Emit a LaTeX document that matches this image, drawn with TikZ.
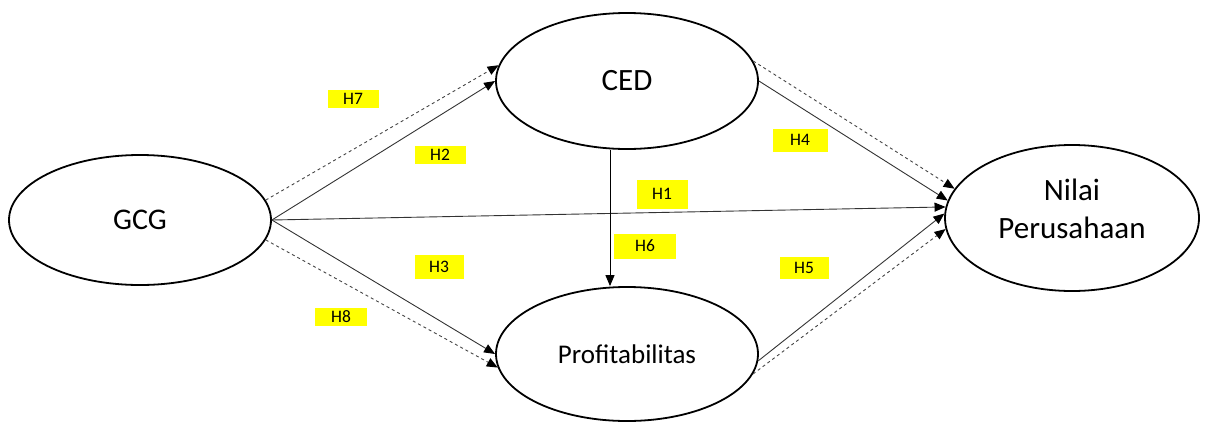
\documentclass[tikz,border=0pt]{standalone}
\usepackage{fontspec}
\setmainfont{Carlito}
\usetikzlibrary{arrows.meta,shapes.geometric,calc}
\definecolor{hlyellow}{HTML}{FFFF00}
\definecolor{lineg}{HTML}{333333}
\definecolor{dashg}{HTML}{444444}
\tikzset{
  construct/.style={ellipse, draw=black, line width=1.8pt, inner sep=0pt, align=center},
  hyp/.style={fill=hlyellow, inner sep=0pt, font=\fontsize{17.5}{20}\selectfont},
  tipstyle/.style={-{Triangle[length=11pt,width=9pt,color=black]}},
  solidarrow/.style={draw=lineg, line width=0.9pt, tipstyle},
  dasharrow/.style={draw=dashg, line width=0.9pt, dash pattern=on 3pt off 3pt, tipstyle},
}
\begin{document}
\begin{tikzpicture}[x=1pt,y=-1pt]
\useasboundingbox (0,0) rectangle (1208,421);
% constructs
\node[construct, minimum width=262pt, minimum height=130pt, font=\fontsize{30}{36}\selectfont] (gcg) at (140,220) {GCG};
\node[construct, minimum width=262pt, minimum height=136pt, font=\fontsize{31}{37}\selectfont] (ced) at (627,81) {CED};
\node[construct, minimum width=262pt, minimum height=134pt, font=\fontsize{27}{33}\selectfont] (prof) at (627,354) {Profitabilitas};
\node[construct, minimum width=254pt, minimum height=146pt] (nilai) at (1072,218) {};
\node[align=center, inner sep=0pt, font=\fontsize{31}{37.8}\selectfont] (nilaitext) at (1072,209) {Nilai\\Perusahaan};
% connectors
\draw[dasharrow] (gcg.9) -- (ced.173);
\draw[solidarrow] (gcg.east) -- (ced.west);
\draw[solidarrow] (gcg.east) -- (nilai.175.5);
\draw[solidarrow] (gcg.east) -- (prof.west);
\draw[dasharrow] (gcg.-9) -- (prof.186);
\draw[dasharrow] (ced.9) -- (nilai.166);
\draw[solidarrow] (ced.east) -- (nilai.172);
\draw[solidarrow] (prof.-3) -- (nilai.178.5);
\draw[dasharrow] (prof.-9) -- (nilai.185.5);
\draw[draw=black, line width=1pt, tipstyle] ($(ced.south)+(-17,0)$) -- ($(prof.north)+(-17,0)$);
% hypothesis labels
\node[hyp, minimum width=51pt, minimum height=18pt] (h7) at (353,99) {H7};
\node[hyp, minimum width=51pt, minimum height=18pt] (h2) at (440,155) {H2};
\node[hyp, minimum width=55pt, minimum height=23pt] (h4) at (800,140) {H4};
\node[hyp, minimum width=51pt, minimum height=29pt] (h1) at (662,194) {H1};
\node[hyp, minimum width=62pt, minimum height=25pt] (h6) at (645,246) {H6};
\node[hyp, minimum width=49pt, minimum height=24pt] (h3) at (439,267) {H3};
\node[hyp, minimum width=52pt, minimum height=18pt] (h8) at (341,317) {H8};
\node[hyp, minimum width=49pt, minimum height=22pt] (h5) at (804,268) {H5};
\end{tikzpicture}
\end{document}
